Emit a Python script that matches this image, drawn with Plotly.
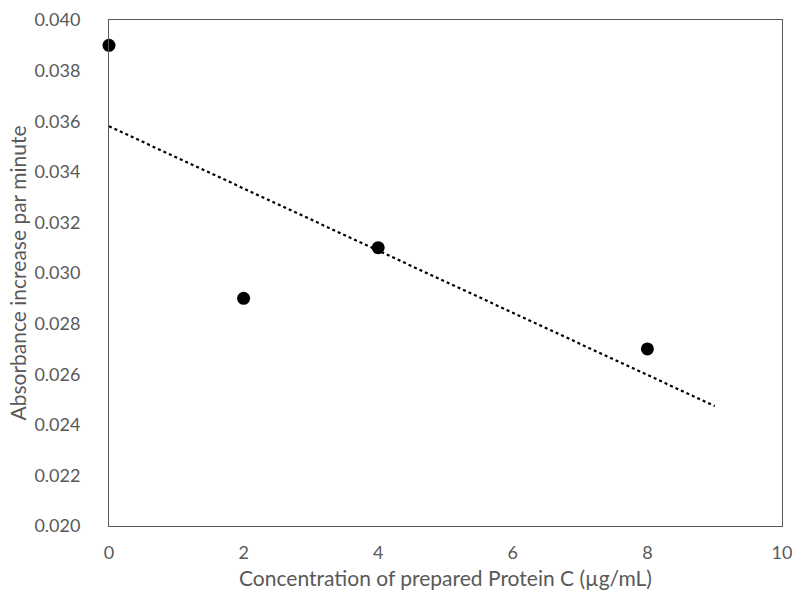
import numpy as np
import plotly.graph_objects as go

# Measured activity vs. concentration of prepared Protein C
concentration = [0, 2, 4, 8]
absorbance_rate = [0.039, 0.029, 0.031, 0.027]

# Least-squares linear trendline, drawn over 0..9 µg/mL
slope, intercept = np.polyfit(concentration, absorbance_rate, 1)
trend_x = np.array([0, 9])
trend_y = slope * trend_x + intercept

axis_grey = "#595959"
font_family = "Lato, 'Open Sans', sans-serif"

fig = go.Figure()
fig.add_trace(go.Scatter(
    x=trend_x, y=trend_y, mode="lines",
    line=dict(color="black", width=2.2, dash="dot"),
    hoverinfo="skip", showlegend=False,
))
fig.add_trace(go.Scatter(
    x=concentration, y=absorbance_rate, mode="markers",
    marker=dict(color="black", size=13),
    showlegend=False, cliponaxis=False,
))

fig.update_layout(
    width=792, height=596,
    margin=dict(l=109, r=10, t=20, b=70),
    paper_bgcolor="white", plot_bgcolor="white",
    font=dict(family=font_family, color=axis_grey),
)
fig.update_xaxes(
    range=[0, 10], tickvals=[0, 2, 4, 6, 8, 10], automargin=False,
    ticklabeloverflow="allow",
    showgrid=False, zeroline=False,
    showline=True, mirror=True, linecolor=axis_grey, linewidth=1,
    ticks="", ticklabelstandoff=10,
    tickfont=dict(size=18, color=axis_grey),
    title=dict(text="Concentration of prepared Protein C (µg/mL)",
               font=dict(size=21, color=axis_grey), standoff=9),
)
fig.update_yaxes(
    range=[0.020, 0.040], dtick=0.002, tickformat=".3f", automargin=False,
    showgrid=False, zeroline=False,
    showline=True, mirror=True, linecolor=axis_grey, linewidth=1,
    ticks="", ticklabelstandoff=24,
    tickfont=dict(size=18, color=axis_grey),
    title=dict(text="Absorbance increase par minute",
               font=dict(size=21, color=axis_grey), standoff=2),
)

fig.write_html("out.html")
